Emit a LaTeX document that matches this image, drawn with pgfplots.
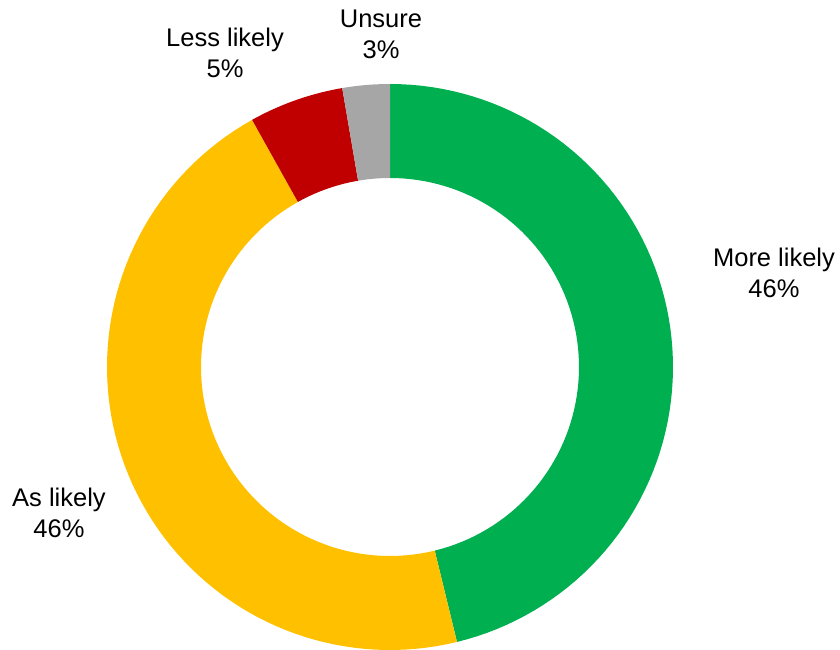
\documentclass[border=0pt]{standalone}
\usepackage{pgfplots}
\pgfplotsset{compat=1.18}
\usepgfplotslibrary{fillbetween}
\usepackage{fontspec}
\setmainfont{Liberation Sans}
\definecolor{cGreen}{RGB}{0,176,80}
\definecolor{cYellow}{RGB}{255,192,0}
\definecolor{cRed}{RGB}{192,0,0}
\definecolor{cGray}{RGB}{166,166,166}
% shares (percent), clockwise from the top
\def\vMore{46.2}
\def\vAs{45.7}
\def\vLess{5.4}
\def\vUnsure{2.7}
\newcommand\seg[3]{% #1 start (cumulative %), #2 value (%), #3 colour
  \addplot[draw=none, name path=o#3, variable=\t, domain=0:1, samples=80]
    ({390+283*cos(90-3.6*(#1+#2*\t))},{283+283*sin(90-3.6*(#1+#2*\t))});
  \addplot[draw=none, name path=i#3, variable=\t, domain=0:1, samples=80]
    ({390+189*cos(90-3.6*(#1+#2*\t))},{283+189*sin(90-3.6*(#1+#2*\t))});
  \addplot[#3, draw=none] fill between[of=o#3 and i#3];
}
\begin{document}
\begin{tikzpicture}
\begin{axis}[width=840pt, height=650pt, scale only axis,
  xmin=0, xmax=840, ymin=0, ymax=650, hide axis, clip=false]
\addplot[draw=none] coordinates {(0,0) (840,650)};
\pgfmathsetmacro\cA{0}
\pgfmathsetmacro\cB{\vMore}
\pgfmathsetmacro\cC{\vMore+\vAs}
\pgfmathsetmacro\cD{\vMore+\vAs+\vLess}
\seg{\cA}{\vMore}{cGreen}
\seg{\cB}{\vAs}{cYellow}
\seg{\cC}{\vLess}{cRed}
\seg{\cD}{\vUnsure}{cGray}
\begin{scope}[every node/.style={align=center, font=\fontsize{25.5}{31}\selectfont, text=black}]
\node at (axis cs:774,377) {More likely\\46\%};
\node at (axis cs:59,137) {As likely\\46\%};
\node at (axis cs:225,597) {Less likely\\5\%};
\node at (axis cs:381,616) {Unsure\\3\%};
\end{scope}
\end{axis}
\end{tikzpicture}
\end{document}
